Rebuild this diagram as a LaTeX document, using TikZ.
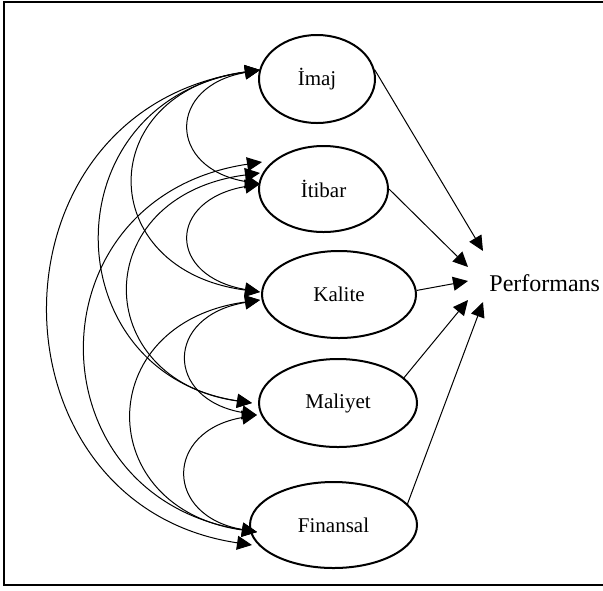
\documentclass[tikz,border=0pt]{standalone}
\usepackage{fontspec}
\setmainfont{Liberation Serif}
\usetikzlibrary{arrows.meta,shapes.geometric}
\begin{document}
\begin{tikzpicture}[x=0.5pt,y=-0.5pt,
  factor/.style={draw, ellipse, line width=1pt, inner sep=0pt,
    font=\fontsize{10.5}{12}\selectfont},
  cov/.style={line width=0.5pt,
    {Triangle[length=7.5pt,width=7pt]}-{Triangle[length=7.5pt,width=7pt]}},
  effect/.style={line width=0.5pt, -{Triangle[length=7.5pt,width=7pt]}}]
\useasboundingbox (0,0) rectangle (603,590);

% open frame
\draw[line width=1pt] (606,1.5) -- (3.5,1.5) -- (3.5,584.5) -- (606,584.5);

% factors
\node[factor, minimum width=58pt, minimum height=44pt] (imaj) at (317,79) {İmaj};
\node[factor, minimum width=64.5pt, minimum height=43pt] (itibar) at (323.5,189) {İtibar};
\node[factor, minimum width=77pt, minimum height=43.5pt] (kalite) at (339,294.5) {Kalite};
\node[factor, minimum width=79pt, minimum height=44pt] (maliyet) at (338,403) {Maliyet};
\node[factor, minimum width=83.5pt, minimum height=43pt] (finansal) at (333.5,525) {Finansal};

\node[anchor=base west, inner sep=0pt, font=\fontsize{12}{14}\selectfont] (perf) at (489,291) {Performans};

% arrow tip points on the left side of the factors
\coordinate (imajL) at (260,70);
\coordinate (itibarA) at (262,162);
\coordinate (itibarB) at (260,173);
\coordinate (itibarC) at (260,184);
\coordinate (kaliteA) at (260,292);
\coordinate (kaliteB) at (260,300);
\coordinate (maliyetA) at (252,403);
\coordinate (maliyetB) at (257,415);
\coordinate (finansalA) at (257,532);
\coordinate (finansalB) at (252,545);

% tip points at Performans
\coordinate (pf1) at (483,251);
\coordinate (pf2) at (468,267);
\coordinate (pf3) at (468,281);
\coordinate (pf4) at (468,300);
\coordinate (pf5) at (483,302);

% covariances
\draw[cov] (imajL) .. controls +(-93,16) and +(-93,-16) .. (itibarC);
\draw[cov] (imajL) .. controls +(-167,22) and +(-167,-22) .. (kaliteA);
\draw[cov] (imajL) .. controls +(-211,30) and +(-200,-30) .. (maliyetA);
\draw[cov] (imajL) .. controls +(-280,40) and +(-269,-40) .. (finansalB);
\draw[cov] (itibarC) .. controls +(-93,16) and +(-93,-16) .. (kaliteA);
\draw[cov] (itibarB) .. controls +(-173,23) and +(-163,-23) .. (maliyetA);
\draw[cov] (itibarA) .. controls +(-233,35) and +(-227,-35) .. (finansalA);
\draw[cov] (kaliteB) .. controls +(-96,16) and +(-92,-16) .. (maliyetB);
\draw[cov] (kaliteB) .. controls +(-169,23) and +(-165,-23) .. (finansalA);
\draw[cov] (maliyetB) .. controls +(-93,16) and +(-93,-16) .. (finansalA);

% effects on performance
\draw[effect] (imaj.9) -- (pf1);
\draw[effect] (itibar.east) -- (pf2);
\draw[effect] (kalite.3) -- (pf3);
\draw[effect] (maliyet.21) -- (pf4);
\draw[effect] (finansal.16) -- (pf5);
\end{tikzpicture}
\end{document}
